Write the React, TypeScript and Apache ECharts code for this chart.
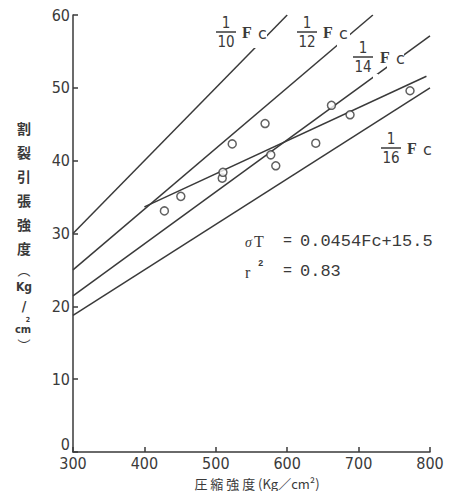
import React, { useEffect, useRef } from "react";
import * as echarts from "echarts";

// Axis ranges
const X_MIN = 300;
const X_MAX = 800;
const X_INTERVAL = 100;
const Y_MIN = 0;
const Y_MAX = 60;
const Y_INTERVAL = 10;

// Reference lines σT = Fc / n
const fcDenominators = [10, 12, 14, 16];
const fcLineStartX = [300, 300, 300, 300];
const fcLineEndX = [600, 720, 800, 800];

// Regression line σT = 0.0454 Fc + 15.5
const regressionSlope = 0.0454;
const regressionIntercept = 15.5;
const regressionStartX = 400;
const regressionEndX = 795;

// Observed points [Fc, σT]
const strengthPoints: [number, number][] = [
  [428, 33.1],
  [451, 35.1],
  [509, 37.6],
  [510, 38.4],
  [523, 42.3],
  [569, 45.1],
  [577, 40.8],
  [584, 39.3],
  [640, 42.4],
  [662, 47.6],
  [688, 46.3],
  [772, 49.6],
];

const yNameChars = ["割", "裂", "引", "張", "強", "度"];
const xAxisName = "圧 縮 強 度 (Kg／cm²)";
const equationText = "0.0454Fc+15.5";
const r2Text = "0.83";

const INK = "#3a3a3a";
const NUM_FONT = '"DejaVu Sans Condensed", "Liberation Sans Narrow", sans-serif';
const CJK_FONT = '"Noto Sans CJK JP", "Noto Sans CJK SC", sans-serif';
const MONO_FONT = '"Liberation Mono", "DejaVu Sans Mono", monospace';

function txt(x: number, y: number, text: string, font: string, align = "center", vAlign = "middle", extra: any = {}) {
  return {
    type: "text",
    x,
    y,
    z: 100,
    silent: true,
    style: {
      text,
      font,
      fill: INK,
      align,
      textAlign: align,
      verticalAlign: vAlign,
      textVerticalAlign: vAlign,
      ...extra,
    },
  };
}

function whiteRect(x: number, y: number, w: number, h: number) {
  return {
    type: "rect",
    z: 90,
    silent: true,
    shape: { x, y, width: w, height: h },
    style: { fill: "#fff" },
  };
}

function fraction(cx: number, barY: number, denom: string, fX: number, fY: number) {
  const fracFont = `15px ${NUM_FONT}`;
  return [
    txt(cx, barY - 9, "1", fracFont),
    {
      type: "line",
      z: 100,
      silent: true,
      shape: { x1: cx - 10, y1: barY, x2: cx + 10, y2: barY },
      style: { stroke: INK, lineWidth: 1.5 },
    },
    txt(cx, barY + 10, denom, fracFont),
    txt(fX, fY, "F", `bold 16px "Liberation Serif", serif`, "left"),
    txt(fX + 16, fY + 1, "c", `16px "DejaVu Sans", sans-serif`, "left"),
  ];
}

export default function App() {
  const ref = useRef<HTMLDivElement>(null);

  useEffect(() => {
    if (!ref.current) return;
    const chart = echarts.init(ref.current, null, { renderer: "svg" });

    const fcSeries = fcDenominators.map((d, i) => ({
      type: "line",
      name: `1/${d} Fc`,
      data: [
        [fcLineStartX[i], fcLineStartX[i] / d],
        [fcLineEndX[i], fcLineEndX[i] / d],
      ],
      symbol: "none",
      lineStyle: { color: INK, width: 1.5 },
      z: 2,
    }));

    const regSeries = {
      type: "line",
      name: "regression",
      data: [
        [regressionStartX, regressionSlope * regressionStartX + regressionIntercept],
        [regressionEndX, regressionSlope * regressionEndX + regressionIntercept],
      ],
      symbol: "none",
      lineStyle: { color: INK, width: 1.5 },
      z: 2,
    };

    const scatter = {
      type: "scatter",
      data: strengthPoints,
      symbol: "circle",
      symbolSize: 8,
      itemStyle: { color: "#fff", borderColor: INK, borderWidth: 1.5 },
      z: 3,
    };

    const graphic: any[] = [
      // gaps where labels cut the lines
      whiteRect(253, 33, 14, 15),
      whiteRect(337, 33, 13, 14),
      whiteRect(373, 74, 5, 7),
      whiteRect(387, 53, 17, 16),
      ...fraction(226, 32, "10", 242, 32),
      ...fraction(307, 32, "12", 323, 32),
      ...fraction(363, 57, "14", 380, 57),
      ...fraction(391, 148, "16", 407, 148),
      // equation
      txt(245, 242, "σ", `italic 14px "Liberation Serif", serif`, "left"),
      txt(254, 241, "T", `16px "Liberation Serif", serif`, "left"),
      txt(283, 241, "=", `15px ${MONO_FONT}`, "left"),
      txt(300, 241, equationText, `17px ${MONO_FONT}`, "left"),
      txt(245, 272, "r", `16px "Liberation Serif", serif`, "left"),
      txt(258, 264, "2", `bold 9px ${MONO_FONT}`, "left"),
      txt(283, 271, "=", `15px ${MONO_FONT}`, "left"),
      txt(300, 271, r2Text, `17px ${MONO_FONT}`, "left"),
      // x axis name
      txt(257, 483, xAxisName, `13px ${CJK_FONT}`),
      // y axis name (vertical)
      ...yNameChars.map((c, i) => txt(24, 128 + i * 24, c, `bold 14px ${CJK_FONT}`)),
      txt(24, 269, "︵", `13px ${CJK_FONT}`),
      txt(24, 287, "Kg", `bold 12px ${NUM_FONT}`),
      txt(24, 306, "/", `bold 14px ${NUM_FONT}`),
      txt(23, 329, "cm", `bold 11px ${NUM_FONT}`),
      txt(28, 320, "2", `bold 7px ${NUM_FONT}`),
      txt(24, 344, "︶", `13px ${CJK_FONT}`),
    ];

    chart.setOption({
      animation: false,
      backgroundColor: "#fff",
      grid: { left: 73, right: 23, top: 15, bottom: 39, containLabel: false },
      xAxis: {
        type: "value",
        min: X_MIN,
        max: X_MAX,
        interval: X_INTERVAL,
        axisLine: { show: true, lineStyle: { color: INK, width: 1.5 } },
        axisTick: { show: true, inside: true, length: 5, lineStyle: { color: INK, width: 1.5 } },
        axisLabel: { color: INK, fontFamily: NUM_FONT, fontSize: 16, margin: 3 },
        splitLine: { show: false },
      },
      yAxis: {
        type: "value",
        min: Y_MIN,
        max: Y_MAX,
        interval: Y_INTERVAL,
        axisLine: { show: true, lineStyle: { color: INK, width: 1.5 } },
        axisTick: { show: true, inside: true, length: 5, lineStyle: { color: INK, width: 1.5 } },
        axisLabel: {
          color: INK,
          fontFamily: NUM_FONT,
          fontSize: 16,
          margin: 3,
          verticalAlignMinLabel: "bottom",
        },
        splitLine: { show: false },
      },
      series: [...fcSeries, regSeries, scatter],
      graphic,
    });

    return () => chart.dispose();
  }, []);

  return (
    <div
      ref={ref}
      style={{ position: "fixed", left: 0, top: 0, width: 453, height: 491, background: "#fff" }}
    />
  );
}
